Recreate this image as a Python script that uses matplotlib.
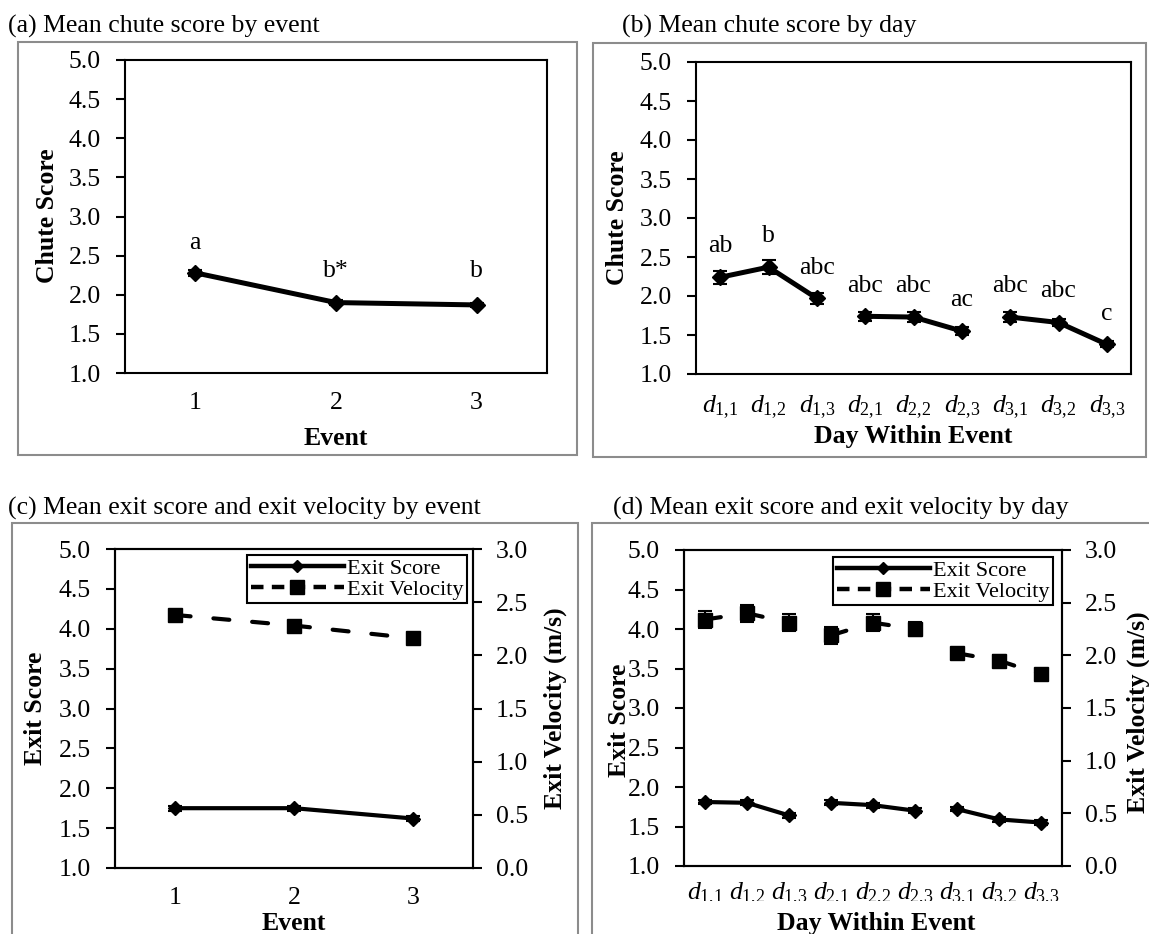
import numpy as np
import matplotlib
matplotlib.use("Agg")
import matplotlib.pyplot as plt
from matplotlib.lines import Line2D
from matplotlib.patches import Rectangle
from matplotlib.transforms import Bbox, TransformedBbox

plt.rcParams['font.family'] = ['Liberation Serif', 'DejaVu Serif']
plt.rcParams['mathtext.fontset'] = 'custom'
plt.rcParams['mathtext.rm'] = 'Liberation Serif'
plt.rcParams['mathtext.it'] = 'Liberation Serif:italic'
plt.rcParams['lines.scale_dashes'] = False

# data
events = ['1', '2', '3']
chute_event = [2.28, 1.90, 1.87]
chute_event_err = [0.04, 0.03, 0.03]
chute_event_letters = ['a', 'b*', 'b']
chute_event_letter_y = [2.66, 2.30, 2.30]

days = [r'$d_{\mathrm{1{,}1}}$', r'$d_{\mathrm{1{,}2}}$', r'$d_{\mathrm{1{,}3}}$',
        r'$d_{\mathrm{2{,}1}}$', r'$d_{\mathrm{2{,}2}}$', r'$d_{\mathrm{2{,}3}}$',
        r'$d_{\mathrm{3{,}1}}$', r'$d_{\mathrm{3{,}2}}$', r'$d_{\mathrm{3{,}3}}$']
day_event = [0, 0, 0, 1, 1, 1, 2, 2, 2]
chute_day = [2.24, 2.37, 1.97, 1.74, 1.73, 1.55, 1.73, 1.66, 1.38]
chute_day_err = [0.08, 0.09, 0.07, 0.06, 0.06, 0.05, 0.06, 0.05, 0.04]
chute_day_letters = ['ab', 'b', 'abc', 'abc', 'abc', 'ac', 'abc', 'abc', 'c']
chute_day_letter_y = [2.64, 2.77, 2.36, 2.13, 2.13, 1.95, 2.13, 2.06, 1.77]

exit_score_event = [1.75, 1.75, 1.62]
exit_score_event_err = [0.03, 0.03, 0.03]
exit_vel_event = [2.38, 2.28, 2.16]
exit_vel_event_err = [0.03, 0.03, 0.03]

exit_score_day = [1.81, 1.80, 1.64, 1.80, 1.77, 1.70, 1.72, 1.59, 1.55]
exit_score_day_err = [0.03, 0.03, 0.03, 0.03, 0.03, 0.03, 0.03, 0.03, 0.03]
exit_vel_day = [2.34, 2.40, 2.31, 2.19, 2.31, 2.25, 2.02, 1.95, 1.82]
exit_vel_day_err = [0.08, 0.08, 0.08, 0.08, 0.08, 0.07, 0.05, 0.05, 0.04]

W, H = 1149, 934
FS = 18.5
fig = plt.figure(figsize=(W / 100, H / 100), dpi=100)


def fx(x):
    return x / W


def fy(y):
    return 1 - y / H


def add_ax(x0, y0, x1, y1):
    return fig.add_axes([fx(x0), fy(y1), (x1 - x0) / W, (y1 - y0) / H])


def frame(x0, y0, x1, y1):
    fig.patches.append(Rectangle((fx(x0), fy(y1)), (x1 - x0) / W, (y1 - y0) / H,
                                 transform=fig.transFigure, fill=False,
                                 edgecolor='#8c8c8c', lw=1.5))


def style(ax, labels, ylim, step):
    ax.set_xlim(-0.5, len(labels) - 0.5)
    ax.set_xticks(range(len(labels)))
    ax.set_xticklabels(labels)
    ax.set_ylim(*ylim)
    ax.set_yticks(np.arange(ylim[0], ylim[1] + 0.01, step))
    ax.set_yticklabels([f'{v:.1f}' for v in np.arange(ylim[0], ylim[1] + 0.01, step)])
    ax.tick_params(axis='y', direction='out', length=6.5, width=1.5, pad=11, labelsize=FS)
    ax.tick_params(axis='x', length=0, pad=14, labelsize=FS)
    for s in ax.spines.values():
        s.set_linewidth(1.5)


def groups(idx):
    out = {}
    for i, g in enumerate(idx):
        out.setdefault(g, []).append(i)
    return list(out.values())


def draw_solid(ax, values, errs, idx, lw, ms):
    for g in groups(idx):
        ax.errorbar(g, [values[i] for i in g], yerr=[errs[i] for i in g],
                    fmt='-D', color='k', lw=lw, ms=ms, capsize=5, elinewidth=1.5,
                    capthick=1.5, solid_capstyle='round')


def draw_dashed(ax, values, errs, idx, lw, ms):
    for g in groups(idx):
        for a, b in zip(g[:-1], g[1:]):
            ax.plot([a, b], [values[a], values[b]], color='k', lw=lw,
                    linestyle=(0, (11.5, 16.5)), dash_capstyle='round')
    ax.errorbar(range(len(values)), values, yerr=errs, fmt='s', color='k', ms=ms,
                capsize=5, elinewidth=1.5, capthick=1.5)


# frames and titles
frame(18, 42, 577, 455)
frame(593, 43, 1146, 457)
frame(12, 523, 578, 960)
frame(592, 523, 1170, 960)
fig.text(fx(8), fy(33), '(a) Mean chute score by event', fontsize=FS, va='baseline')
fig.text(fx(622), fy(33), '(b) Mean chute score by day', fontsize=FS, va='baseline')
fig.text(fx(8), fy(515), '(c) Mean exit score and exit velocity by event', fontsize=FS, va='baseline')
fig.text(fx(613), fy(515), '(d) Mean exit score and exit velocity by day', fontsize=FS, va='baseline')

# (a)
ax_a = add_ax(125, 60, 547, 373)
style(ax_a, events, (1, 5), 0.5)
draw_solid(ax_a, chute_event, chute_event_err, [0, 0, 0], 3.6, 8)
for i, (t, y) in enumerate(zip(chute_event_letters, chute_event_letter_y)):
    ax_a.text(i, y, t, ha='center', va='center', fontsize=FS)
fig.text(fx(48), fy(216), 'Chute Score', rotation=90, ha='center', va='center',
         fontsize=FS, fontweight='bold')
fig.text(fx(336), fy(445), 'Event', ha='center', va='baseline', fontsize=FS, fontweight='bold')

# (b)
ax_b = add_ax(696, 62, 1131, 374)
style(ax_b, days, (1, 5), 0.5)
draw_solid(ax_b, chute_day, chute_day_err, day_event, 3.6, 8)
for i, (t, y) in enumerate(zip(chute_day_letters, chute_day_letter_y)):
    ax_b.text(i, y, t, ha='center', va='center', fontsize=FS)
fig.text(fx(617), fy(218), 'Chute Score', rotation=90, ha='center', va='center',
         fontsize=FS, fontweight='bold')
fig.text(fx(913), fy(443), 'Day Within Event', ha='center', va='baseline',
         fontsize=FS, fontweight='bold')

legend_handles = [
    Line2D([], [], color='k', lw=3.2, marker='D', ms=6),
    Line2D([], [], color='k', lw=3.2, marker='s', ms=10, linestyle=(0, (9, 6))),
]
legend_labels = ['Exit Score', 'Exit Velocity']


def exit_panel(box, labels, score, score_err, vel, vel_err, idx, legend_corner):
    ax = add_ax(*box)
    style(ax, labels, (1, 5), 0.5)
    ax2 = ax.twinx()
    ax2.set_ylim(0, 3)
    ax2.set_yticks(np.arange(0, 3.01, 0.5))
    ax2.set_yticklabels([f'{v:.1f}' for v in np.arange(0, 3.01, 0.5)])
    ax2.tick_params(axis='y', direction='out', length=6.5, width=1.5, pad=10, labelsize=FS)
    for s in ax2.spines.values():
        s.set_linewidth(1.5)
    draw_solid(ax, score, score_err, idx, 3.0, 7)
    draw_dashed(ax2, vel, vel_err, idx, 3.0, 10)
    leg = ax2.legend(legend_handles, legend_labels, loc='upper right',
                     bbox_to_anchor=(fx(legend_corner[0]), fy(legend_corner[1])),
                     bbox_transform=fig.transFigure, fancybox=False, edgecolor='k',
                     framealpha=1, fontsize=16, handlelength=4.2, borderpad=0.15,
                     labelspacing=0.02, handletextpad=0.15, borderaxespad=0)
    leg.get_frame().set_linewidth(1.5)
    return ax, ax2


# (c)
ax_c, ax_c2 = exit_panel((115, 549, 473, 868), events, exit_score_event, exit_score_event_err,
                         exit_vel_event, exit_vel_event_err, [0, 0, 0], (467, 555))
fig.text(fx(36), fy(708), 'Exit Score', rotation=90, ha='center', va='center',
         fontsize=FS, fontweight='bold')
fig.text(fx(555), fy(708), 'Exit Velocity (m/s)', rotation=90, ha='center', va='center',
         fontsize=FS, fontweight='bold')
fig.text(fx(294), fy(930), 'Event', ha='center', va='baseline', fontsize=FS, fontweight='bold')

# (d)
ax_d, ax_d2 = exit_panel((684, 550, 1062, 866), days, exit_score_day, exit_score_day_err,
                         exit_vel_day, exit_vel_day_err, day_event, (1053, 557))
ax_d.tick_params(axis='x', pad=10)
clip = TransformedBbox(Bbox([[fx(580), fy(901)], [fx(1149), fy(860)]]), fig.transFigure)
for lab in ax_d.get_xticklabels():
    lab.set_clip_box(clip)
    lab.set_clip_on(True)
fig.text(fx(619), fy(720), 'Exit Score', rotation=90, ha='center', va='center',
         fontsize=FS, fontweight='bold')
fig.text(fx(1138), fy(712), 'Exit Velocity (m/s)', rotation=90, ha='center', va='center',
         fontsize=FS, fontweight='bold')
fig.text(fx(876), fy(930), 'Day Within Event', ha='center', va='baseline',
         fontsize=FS, fontweight='bold')

fig.savefig('out.png', dpi=100)
